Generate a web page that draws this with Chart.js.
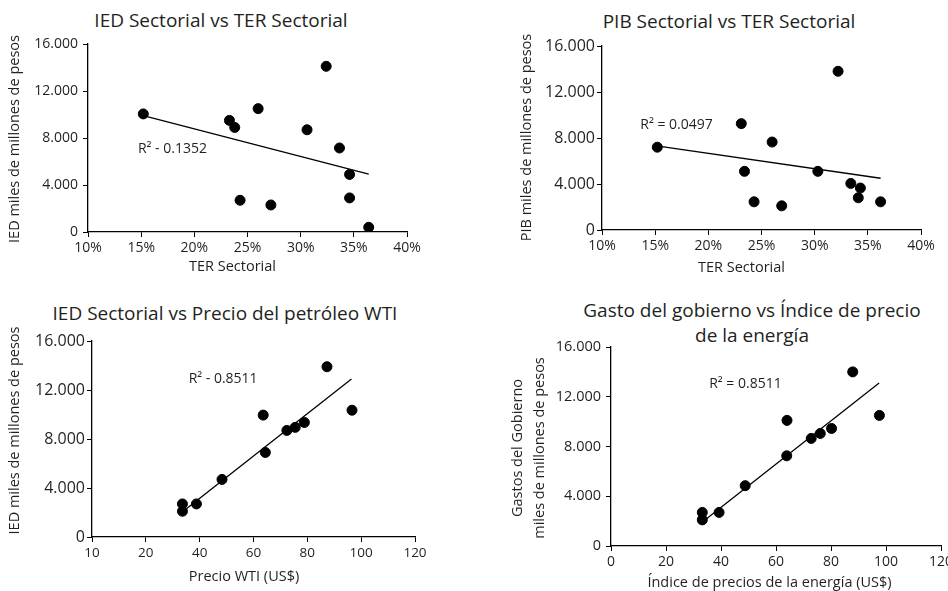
<!DOCTYPE html>
<html lang="es">
<head>
<meta charset="utf-8">
<script src="https://cdn.jsdelivr.net/npm/chart.js@4.4.1/dist/chart.umd.min.js"></script>
<style>
  html, body { margin: 0; padding: 0; background: #fff; }
  body { width: 948px; height: 591px; position: relative; overflow: hidden; font-family: "Open Sans", sans-serif; color: #231f20; }
  canvas { position: absolute; }
  .titulo { position: absolute; width: 440px; text-align: center; font-size: 19px; line-height: 25px; white-space: nowrap; }
</style>
</head>
<body>
<div class="titulo" style="left:1px; top:8px;">IED Sectorial vs TER Sectorial</div>
<div class="titulo" style="left:509px; top:9px;">PIB Sectorial vs TER Sectorial</div>
<div class="titulo" style="left:5px; top:301px;">IED Sectorial vs Precio del petróleo WTI</div>
<div class="titulo" style="left:532px; top:298px;">Gasto del gobierno vs Índice de precio<br>de la energía</div>

<canvas id="g1" width="474" height="290" style="left:0; top:0;"></canvas>
<canvas id="g2" width="474" height="290" style="left:474px; top:0;"></canvas>
<canvas id="g3" width="474" height="301" style="left:0; top:290px;"></canvas>
<canvas id="g4" width="474" height="301" style="left:474px; top:290px;"></canvas>

<script>
// ── Datos ──────────────────────────────────────────────────────
const ticksMiles = ['0', '4.000', '8.000', '12.000', '16.000'];
const ticksTer   = ['10%', '15%', '20%', '25%', '30%', '35%', '40%'];
const ticksWti   = ['10', '20', '40', '60', '80', '100', '120'];
const ticksEner  = ['0', '20', '40', '60', '80', '100', '120'];

// IED Sectorial vs TER Sectorial
const ter1 = [15.2, 23.3, 23.8, 26.0, 32.4, 30.6, 33.65, 34.6, 34.6, 24.3, 27.2, 36.4];
const ied1 = [10050, 9500, 8900, 10500, 14100, 8700, 7150, 4900, 2900, 2700, 2300, 400];
const tend1X = [15.2, 36.4];
const tend1Y = [9900, 4920];

// PIB Sectorial vs TER Sectorial
const ter2 = [15.2, 23.1, 23.4, 24.3, 26.0, 26.9, 30.3, 32.2, 33.4, 34.3, 34.1, 36.2];
const pib2 = [7200, 9250, 5100, 2450, 7650, 2100, 5100, 13800, 4050, 3650, 2800, 2450];
const tend2X = [15.3, 36.2];
const tend2Y = [7300, 4500];

// IED Sectorial vs Precio WTI
const wti3 = [33.6, 33.6, 38.8, 48.3, 63.6, 64.4, 72.4, 75.5, 78.9, 87.3, 96.6];
const ied3 = [2700, 2100, 2700, 4700, 9950, 6900, 8700, 8950, 9350, 13900, 10350];
const tend3X = [34.6, 96.4];
const tend3Y = [2220, 12900];

// Gasto del gobierno vs Índice de precio de la energía
const ener4  = [33.2, 33.2, 39.3, 48.8, 64.0, 63.9, 72.8, 76.1, 80.2, 87.9, 97.6];
const gasto4 = [2700, 2100, 2700, 4850, 10100, 7250, 8650, 9050, 9450, 14000, 10500];
const tend4X = [34.5, 97.5];
const tend4Y = [2150, 13100];

const TEXTO = '#231f20';
const FUENTE = '"Open Sans", sans-serif';

// ── Anotación R² y títulos de ejes ─────────────────────────────
const notaPlugin = {
  id: 'nota',
  afterDatasetsDraw(chart, args, opts) {
    const { ctx, scales } = chart;
    ctx.save();
    ctx.fillStyle = TEXTO;
    ctx.textBaseline = 'middle';
    if (opts.text) {
      ctx.font = '14px ' + FUENTE;
      ctx.textAlign = 'left';
      ctx.fillText(opts.text, scales.x.getPixelForValue(opts.x), scales.y.getPixelForValue(opts.y));
    }
    ctx.font = '14.5px ' + FUENTE;
    ctx.textAlign = 'center';
    if (opts.ejeX) ctx.fillText(opts.ejeX.text, opts.ejeX.cx, opts.ejeX.cy);
    if (opts.ejeY) {
      const lineas = [].concat(opts.ejeY.text);
      lineas.forEach((t, i) => {
        ctx.save();
        ctx.translate(opts.ejeY.cx + i * (opts.ejeY.lh || 0), opts.ejeY.cy);
        ctx.rotate(-Math.PI / 2);
        ctx.fillText(t, 0, 0);
        ctx.restore();
      });
    }
    ctx.restore();
  }
};

const pares = (xs, ys) => xs.map((v, i) => ({ x: v, y: ys[i] }));

function grafico(id, p) {
  return new Chart(document.getElementById(id), {
    type: 'scatter',
    data: {
      datasets: [
        { data: pares(p.xs, p.ys), backgroundColor: '#000', borderColor: '#000', pointRadius: 5, pointHoverRadius: 5, order: 0 },
        { type: 'line', data: pares(p.tx, p.ty), borderColor: '#000', borderWidth: 1.3, pointRadius: 0, fill: false, order: 1 },
      ],
    },
    options: {
      responsive: false,
      animation: false,
      events: [],
      layout: { padding: p.pad },
      plugins: { legend: { display: false }, tooltip: { enabled: false }, nota: p.nota },
      scales: {
        x: {
          type: 'linear', min: p.xMin, max: p.xMax,
          ticks: { stepSize: p.xStep, autoSkip: false, maxRotation: 0, padding: 3, color: TEXTO,
                   font: { family: FUENTE, size: p.xFont }, callback: (v, i) => p.xTicks[i] },
          grid: { drawOnChartArea: false, tickLength: 5, color: '#000', lineWidth: 1 },
          border: { color: '#000', width: 1.3 },
          afterFit: s => { s.height = p.xh; s.paddingLeft = 0; s.paddingRight = 0; },
        },
        y: {
          type: 'linear', min: 0, max: 16000,
          ticks: { stepSize: 4000, padding: p.yPad, color: TEXTO,
                   font: { family: FUENTE, size: p.yFont }, callback: (v, i) => ticksMiles[i] },
          grid: { drawOnChartArea: false, tickLength: 5, color: '#000', lineWidth: 1 },
          border: { color: '#000', width: 1.3 },
          afterFit: s => { s.width = p.yw; s.paddingTop = 0; s.paddingBottom = 0; },
        },
      },
    },
    plugins: [notaPlugin],
  });
}

grafico('g1', {
  xs: ter1, ys: ied1, tx: tend1X, ty: tend1Y,
  xMin: 10, xMax: 40, xStep: 5, xTicks: ticksTer, xFont: 14, yFont: 14, yPad: 5,
  pad: { left: 0, top: 44, right: 67, bottom: 0 }, yw: 88, xh: 58,
  nota: { text: 'R² - 0.1352', x: 14.7, y: 7080,
          ejeX: { text: 'TER Sectorial', cx: 232.5, cy: 267 },
          ejeY: { text: 'IED miles de millones de pesos', cx: 15, cy: 139 } },
});

grafico('g2', {
  xs: ter2, ys: pib2, tx: tend2X, ty: tend2Y,
  xMin: 10, xMax: 40, xStep: 5, xTicks: ticksTer, xFont: 14, yFont: 16, yPad: 2,
  pad: { left: 0, top: 46, right: 27, bottom: 0 }, yw: 128, xh: 60,
  nota: { text: 'R² = 0.0497', x: 13.6, y: 9100,
          ejeX: { text: 'TER Sectorial', cx: 267.5, cy: 268 },
          ejeY: { text: 'PIB miles de millones de pesos', cx: 53, cy: 137.5 } },
});

grafico('g3', {
  xs: wti3, ys: ied3, tx: tend3X, ty: tend3Y,
  xMin: 0, xMax: 120, xStep: 20, xTicks: ticksWti, xFont: 13.5, yFont: 16, yPad: 2,
  pad: { left: 0, top: 51, right: 59, bottom: 0 }, yw: 92, xh: 54,
  nota: { text: 'R² - 0.8511', x: 35.9, y: 12900,
          ejeX: { text: 'Precio WTI (US$)', cx: 244, cy: 287 },
          ejeY: { text: 'IED miles de millones de pesos', cx: 15, cy: 140.5 } },
});

grafico('g4', {
  xs: ener4, ys: gasto4, tx: tend4X, ty: tend4Y,
  xMin: 0, xMax: 120, xStep: 20, xTicks: ticksEner, xFont: 14, yFont: 14.5, yPad: 5,
  pad: { left: 0, top: 57, right: 7, bottom: 0 }, yw: 137, xh: 45,
  nota: { text: 'R² = 0.8511', x: 35.7, y: 13000,
          ejeX: { text: 'Índice de precios de la energía (US$)', cx: 295.5, cy: 293 },
          ejeY: { text: ['Gastos del Gobierno', 'miles de millones de pesos'], cx: 43.5, cy: 158, lh: 22 } },
});
</script>
</body>
</html>
